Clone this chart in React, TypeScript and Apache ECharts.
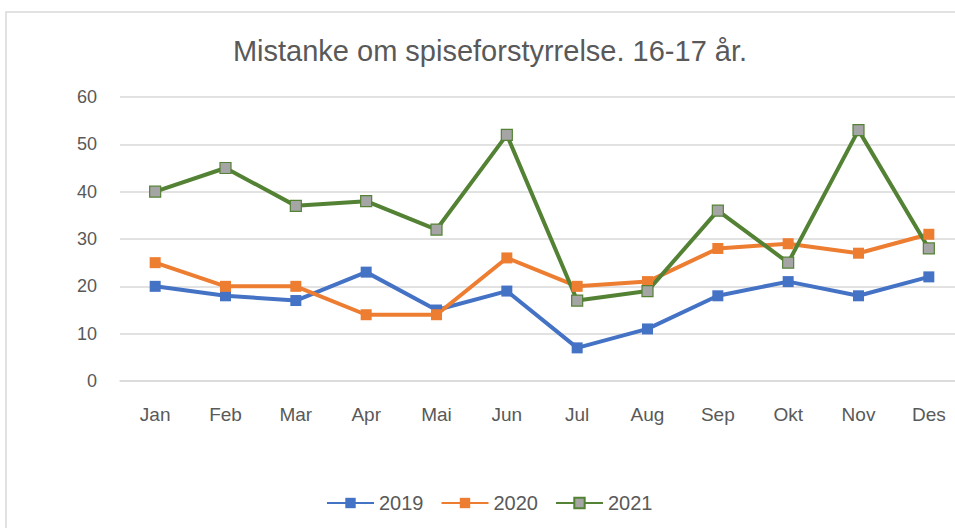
import React, { useEffect, useRef } from "react";
import * as echarts from "echarts";

const months = ["Jan", "Feb", "Mar", "Apr", "Mai", "Jun", "Jul", "Aug", "Sep", "Okt", "Nov", "Des"];
const s2019 = [20, 18, 17, 23, 15, 19, 7, 11, 18, 21, 18, 22];
const s2020 = [25, 20, 20, 14, 14, 26, 20, 21, 28, 29, 27, 31];
const s2021 = [40, 45, 37, 38, 32, 52, 17, 19, 36, 25, 53, 28];
const yTicks = { min: 0, max: 60, interval: 10 };
const titleText = "Mistanke om spiseforstyrrelse. 16-17 år.";

const FONT = "'Liberation Sans', 'DejaVu Sans', sans-serif";

export default function App() {
  const ref = useRef<HTMLDivElement>(null);
  useEffect(() => {
    if (!ref.current) return;
    const chart = echarts.init(ref.current, undefined, { renderer: "svg" });
    const mk = (name: string, data: number[], color: string, fill: string) => ({
      name,
      type: "line",
      data,
      symbol: "rect",
      symbolSize: 11,
      showAllSymbol: true,
      lineStyle: { color, width: 4 },
      itemStyle: { color: fill, borderColor: color, borderWidth: fill === color ? 0 : 1.2 },
      emphasis: { disabled: true },
      z: 2,
    });
    chart.setOption({
      animation: false,
      backgroundColor: "#ffffff",
      graphic: [
        {
          type: "rect",
          shape: { x: 6, y: 12, width: 1000, height: 600 },
          style: { fill: "none", stroke: "#d9d9d9", lineWidth: 1.5 },
          silent: true,
          z: -1,
        },
      ],
      title: {
        text: titleText,
        left: 485,
        textAlign: "center",
        top: 31,
        textStyle: { fontFamily: FONT, fontSize: 29, fontWeight: "normal", color: "#595959" },
      },
      legend: {
        bottom: 10,
        left: 321,
        itemWidth: 47,
        itemHeight: 13,
        itemGap: 17,
        textStyle: { fontFamily: FONT, fontSize: 20, color: "#595959" },
        data: ["2019", "2020", "2021"],
      },
      grid: { left: 120, right: 6, top: 97, bottom: 147, containLabel: false },
      xAxis: {
        type: "category",
        data: months,
        boundaryGap: true,
        axisLine: { lineStyle: { color: "#d9d9d9", width: 1.5 } },
        axisTick: { show: false },
        axisLabel: { fontFamily: FONT, fontSize: 19, color: "#595959", margin: 24 },
      },
      yAxis: {
        type: "value",
        min: yTicks.min,
        max: yTicks.max,
        interval: yTicks.interval,
        axisLine: { show: false },
        axisTick: { show: false },
        splitLine: { lineStyle: { color: "#d9d9d9", width: 1.5 } },
        axisLabel: { fontFamily: FONT, fontSize: 18, color: "#595959", margin: 23 },
      },
      series: [
        mk("2019", s2019, "#4472C4", "#4472C4"),
        mk("2020", s2020, "#ED7D31", "#ED7D31"),
        mk("2021", s2021, "#548235", "#A5A5A5"),
      ],
    });
    return () => chart.dispose();
  }, []);
  return (
    <div style={{ position: "fixed", left: 0, top: 0, width: 955, height: 528, overflow: "hidden" }}>
      <div ref={ref} style={{ width: 970, height: 528 }} />
    </div>
  );
}
